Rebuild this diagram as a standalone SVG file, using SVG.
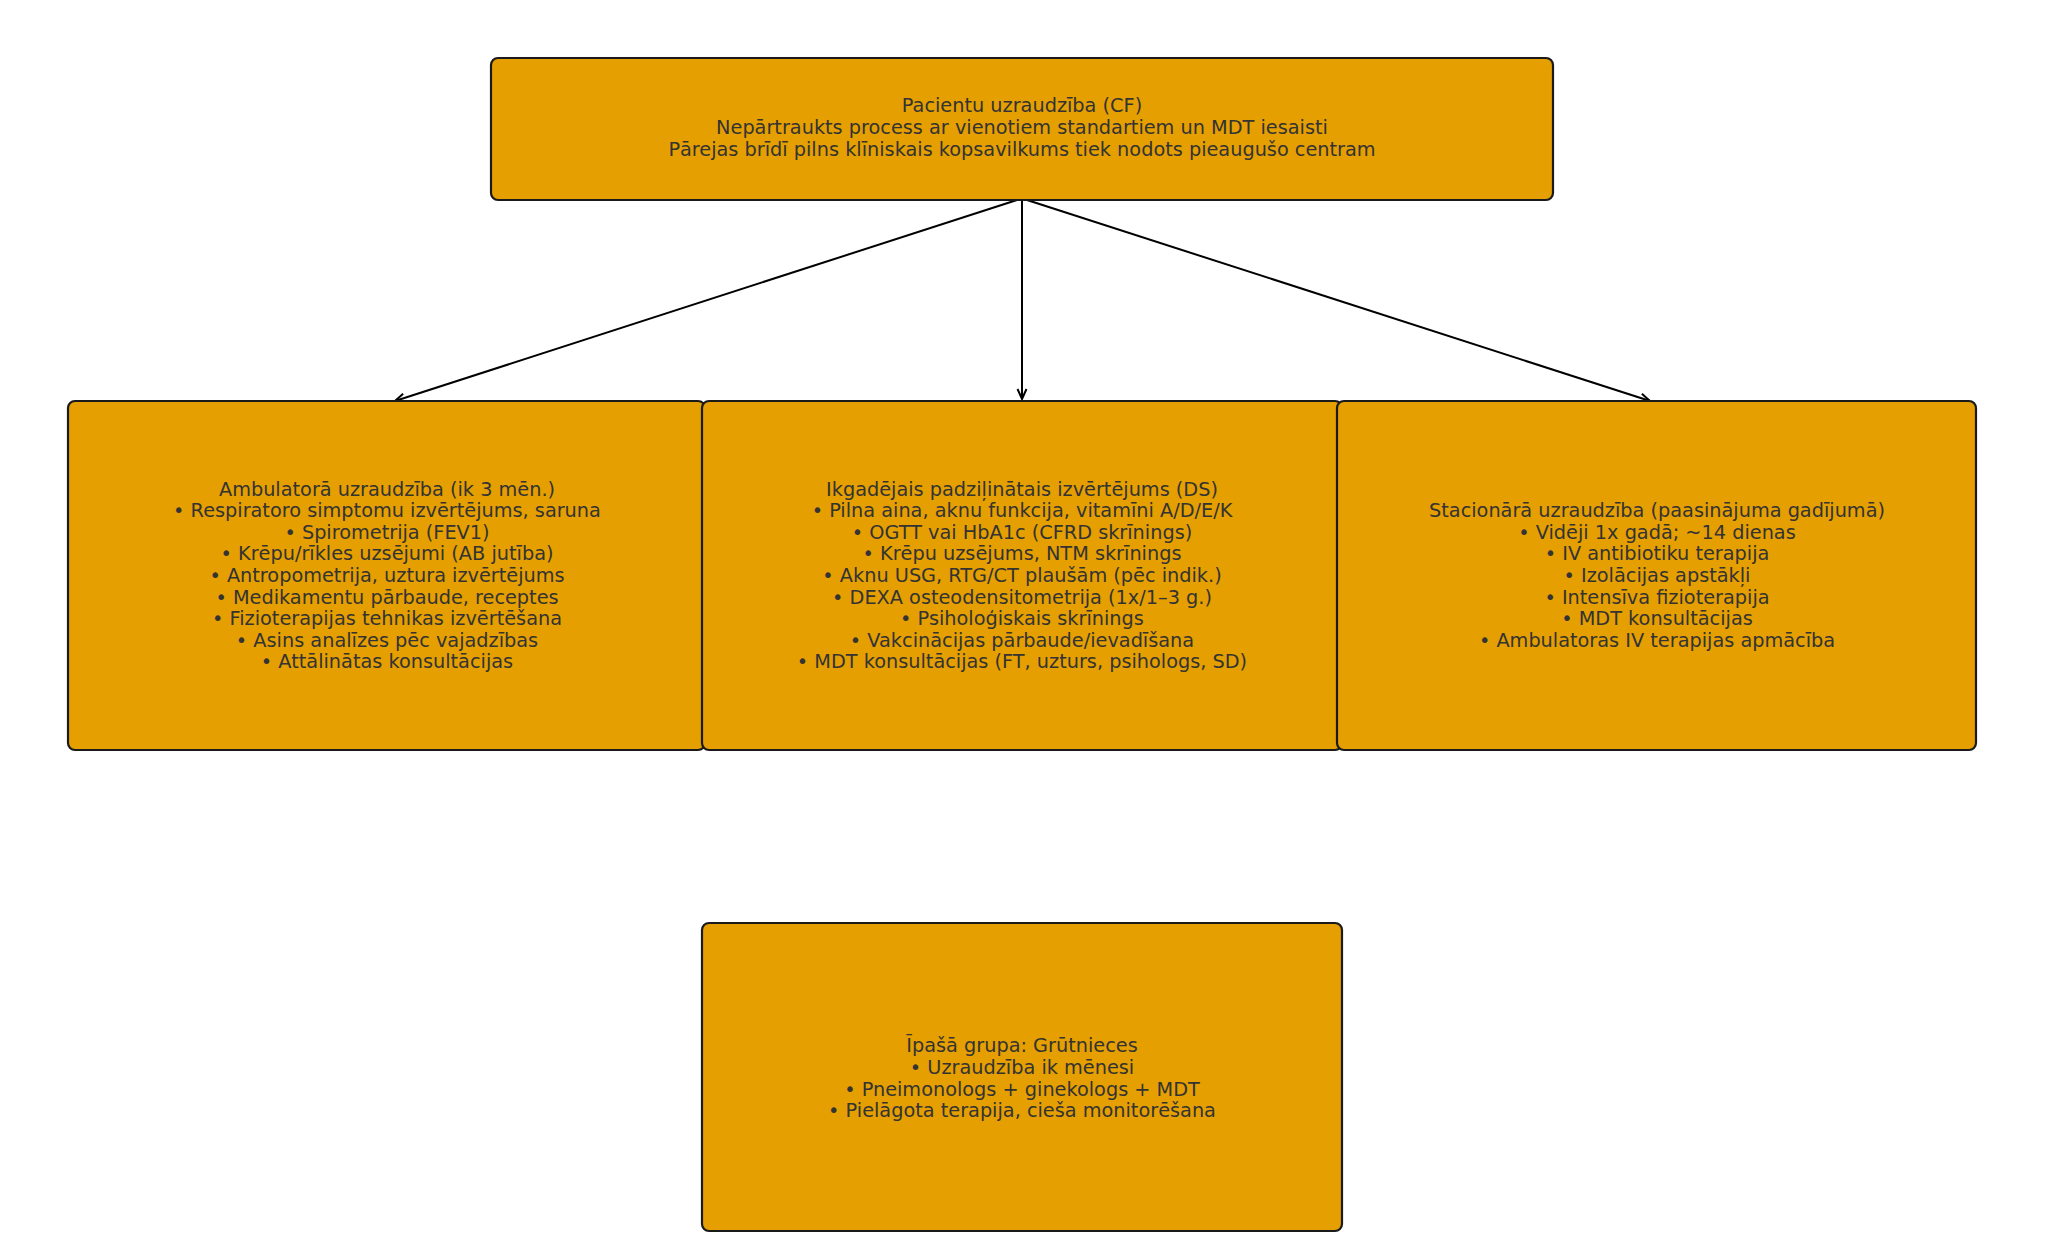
<svg xmlns="http://www.w3.org/2000/svg" width="2048" height="1258" viewBox="0 0 2048 1258">
<defs>
<style>
.box{fill:#E69F00;stroke:#1a1a1a;stroke-width:2.2}
.t{font-family:"DejaVu Sans","Liberation Sans",sans-serif;font-size:19.3px;fill:#333333;text-anchor:middle}
.edge{stroke:#000;stroke-width:2;fill:none}
</style>
<marker id="arr" viewBox="0 0 12 12" refX="11" refY="6" markerWidth="12" markerHeight="12" markerUnits="userSpaceOnUse" orient="auto">
<path d="M1,1.5 L11,6 L1,10.5" fill="none" stroke="#000" stroke-width="2"/>
</marker>
</defs>
<rect width="2048" height="1258" fill="#fff"/>
<g id="edges">
<line class="edge" x1="1017" y1="200" x2="395" y2="401" marker-end="url(#arr)"/>
<line class="edge" x1="1022" y1="200" x2="1022" y2="399" marker-end="url(#arr)"/>
<line class="edge" x1="1027" y1="200" x2="1650" y2="401" marker-end="url(#arr)"/>
</g>
<g id="top">
<rect class="box" x="491" y="58" width="1062" height="142" rx="7"/>
<text class="t" x="1022" y="112.4">Pacientu uzraudzība (CF)</text>
<text class="t" x="1022" y="134.2">Nepārtraukts process ar vienotiem standartiem un MDT iesaisti</text>
<text class="t" x="1022" y="156">Pārejas brīdī pilns klīniskais kopsavilkums tiek nodots pieaugušo centram</text>
</g>
<g id="ambulatory">
<rect class="box" x="68" y="401" width="637" height="349" rx="7"/>
<text class="t" x="387" y="495.6">Ambulatorā uzraudzība (ik 3 mēn.)</text>
<text class="t" x="387" y="517.2">• Respiratoro simptomu izvērtējums, saruna</text>
<text class="t" x="387" y="538.8">• Spirometrija (FEV1)</text>
<text class="t" x="387" y="560.4">• Krēpu/rīkles uzsējumi (AB jutība)</text>
<text class="t" x="387" y="582">• Antropometrija, uztura izvērtējums</text>
<text class="t" x="387" y="603.6">• Medikamentu pārbaude, receptes</text>
<text class="t" x="387" y="625.2">• Fizioterapijas tehnikas izvērtēšana</text>
<text class="t" x="387" y="646.8">• Asins analīzes pēc vajadzības</text>
<text class="t" x="387" y="668.4">• Attālinātas konsultācijas</text>
</g>
<g id="annual">
<rect class="box" x="702" y="401" width="640" height="349" rx="7"/>
<text class="t" x="1022" y="495.6">Ikgadējais padziļinātais izvērtējums (DS)</text>
<text class="t" x="1022" y="517.2">• Pilna aina, aknu funkcija, vitamīni A/D/E/K</text>
<text class="t" x="1022" y="538.8">• OGTT vai HbA1c (CFRD skrīnings)</text>
<text class="t" x="1022" y="560.4">• Krēpu uzsējums, NTM skrīnings</text>
<text class="t" x="1022" y="582">• Aknu USG, RTG/CT plaušām (pēc indik.)</text>
<text class="t" x="1022" y="603.6">• DEXA osteodensitometrija (1x/1–3 g.)</text>
<text class="t" x="1022" y="625.2">• Psiholoģiskais skrīnings</text>
<text class="t" x="1022" y="646.8">• Vakcinācijas pārbaude/ievadīšana</text>
<text class="t" x="1022" y="668.4">• MDT konsultācijas (FT, uzturs, psihologs, SD)</text>
</g>
<g id="inpatient">
<rect class="box" x="1337" y="401" width="639" height="349" rx="7"/>
<text class="t" x="1657" y="517.2">Stacionārā uzraudzība (paasinājuma gadījumā)</text>
<text class="t" x="1657" y="538.8">• Vidēji 1x gadā; ~14 dienas</text>
<text class="t" x="1657" y="560.4">• IV antibiotiku terapija</text>
<text class="t" x="1657" y="582">• Izolācijas apstākļi</text>
<text class="t" x="1657" y="603.6">• Intensīva fizioterapija</text>
<text class="t" x="1657" y="625.2">• MDT konsultācijas</text>
<text class="t" x="1657" y="646.8">• Ambulatoras IV terapijas apmācība</text>
</g>
<g id="pregnant">
<rect class="box" x="702" y="923" width="640" height="308" rx="7"/>
<text class="t" x="1022" y="1052.4">Īpašā grupa: Grūtnieces</text>
<text class="t" x="1022" y="1074">• Uzraudzība ik mēnesi</text>
<text class="t" x="1022" y="1095.6">• Pneimonologs + ginekologs + MDT</text>
<text class="t" x="1022" y="1117.2">• Pielāgota terapija, cieša monitorēšana</text>
</g>
</svg>
